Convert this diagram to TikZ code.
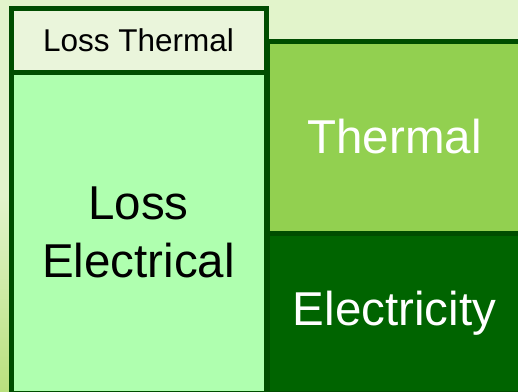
\documentclass[tikz,border=0pt]{standalone}
\usepackage{fontspec}
\setmainfont{Liberation Sans}
\usetikzlibrary{positioning}

\definecolor{bgtop}{HTML}{E2F4CB}
\definecolor{bgbottom}{HTML}{B9E07E}
\definecolor{edgegreen}{HTML}{004D00}
\definecolor{lossthermalfill}{HTML}{EAF5DB}
\definecolor{losselecfill}{HTML}{AFFFAF}
\definecolor{thermalfill}{HTML}{92D050}
\definecolor{elecfill}{HTML}{006400}

\begin{document}
\begin{tikzpicture}[
        x=1pt, y=-1pt,
        block/.style={
            rectangle,
            draw=edgegreen,
            line width=5pt,
            outer sep=0pt,
            inner sep=0pt,
            align=center,
            minimum width=255pt
        },
        bigtext/.style={
            font=\fontsize{47.5}{58}\selectfont
        }
    ]

    % Background
    \useasboundingbox (0,0) rectangle (518,391);
    \shade[top color=bgtop, bottom color=bgbottom, middle color=bgtop] (0,0) rectangle (518,391);

    % Nodes
    \node[block, fill=thermalfill, text=white, bigtext, minimum height=192pt,
          anchor=north west] (thermal) at (267,41) {Thermal};
    \node[block, fill=elecfill, text=white, bigtext, minimum height=160pt,
          below=0pt of thermal] (electricity) {Electricity};
    \node[block, fill=lossthermalfill, minimum height=63.5pt,
          font=\fontsize{31.5}{38}\selectfont, anchor=north west] (lossthermal) at (11,8.5) {Loss Thermal};
    \node[block, fill=losselecfill, bigtext, minimum height=321pt,
          below=0pt of lossthermal] (losselec) {Loss\\Electrical};

\end{tikzpicture}
\end{document}
